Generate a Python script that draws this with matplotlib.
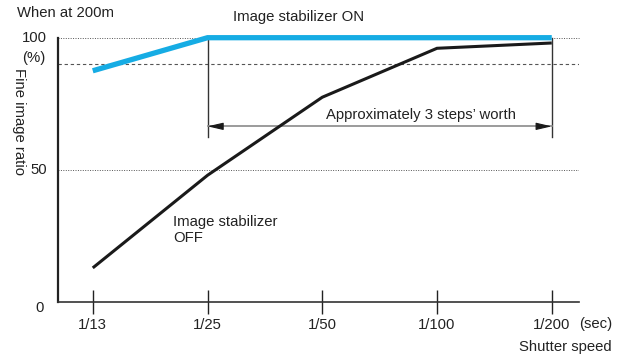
import matplotlib
matplotlib.use("Agg")
import matplotlib.pyplot as plt

plt.rcParams['font.family'] = ['Liberation Sans', 'DejaVu Sans']

# Shutter speeds (categorical x axis)
shutter_labels = ["1/13", "1/25", "1/50", "1/100", "1/200"]
# Fine image ratio (%)
stab_on = [87.5, 100, 100, 100, 100]
stab_off = [13, 48, 77.5, 96, 98]
y_ticks = [0, 50, 100]
ref_dashed = 90
steps_from, steps_to = 1, 4
steps_level = 66.5
steps_bracket_bottom = 62.5

W, H = 621, 356
fig = plt.figure(figsize=(W / 100, H / 100), dpi=100)
ax = fig.add_axes([58 / W, 53.7 / H, 521.3 / W, 264.6 / H])
ax.set_xlim(-0.303, 4.24)
ax.set_ylim(0, 100)

x = list(range(len(shutter_labels)))

# reference lines
grid_c = "#555555"
ax.axhline(100, color=grid_c, lw=0.7, ls=(0, (1, 1.5)), clip_on=False, zorder=1)
ax.axhline(50, color=grid_c, lw=0.7, ls=(0, (1, 1.5)), zorder=1)
ax.axhline(ref_dashed, color=grid_c, lw=0.8, ls=(0, (3, 2.5)), zorder=1)

# data lines
ax.plot(x, stab_off, color="#1a1a1a", lw=2.2, solid_capstyle="butt",
        solid_joinstyle="miter", zorder=3)
ax.plot(x, stab_on, color="#16ACE4", lw=3.8, solid_capstyle="butt",
        solid_joinstyle="miter", clip_on=False, zorder=4)

# bracket showing the gain in shutter steps
for xv in (steps_from, steps_to):
    ax.plot([xv, xv], [100, steps_bracket_bottom], color="#333333", lw=1.0,
            zorder=2, clip_on=False)
ax.plot([steps_from, steps_to], [steps_level, steps_level], color="#8a8a8a",
        lw=1.2, zorder=2)
for xv, off in ((steps_from, 10), (steps_to, -10)):
    ax.annotate("", xy=(xv, steps_level), xytext=(off, 0),
                textcoords="offset points",
                arrowprops=dict(arrowstyle="-|>,head_length=0.95,head_width=0.22",
                                mutation_scale=10, color="#1a1a1a", lw=0.8,
                                shrinkA=0, shrinkB=0), zorder=3)
ax.text(2.86, steps_level + 1.5, "Approximately 3 steps\u2019 worth",
        ha="center", va="bottom", fontsize=10.7, color="#222222")

ax.text(0.70, 27.2, "Image stabilizer\nOFF", ha="left", va="center",
        fontsize=10.7, color="#222222", linespacing=1.2)

# axes styling
for s in ("top", "right"):
    ax.spines[s].set_visible(False)
ax.spines["left"].set_linewidth(1.6)
ax.spines["bottom"].set_linewidth(1.2)
ax.spines["left"].set_color("#222222")
ax.spines["bottom"].set_color("#333333")

ax.set_xticks(x)
ax.set_xticklabels(shutter_labels, fontsize=10.7, color="#222222")
ax.tick_params(axis="x", direction="inout", length=17, width=1.0,
               color="#222222", pad=3)
ax.set_yticks([])

# y tick labels
for v in y_ticks:
    dy = -2.0 if v == 0 else 0
    ax.text(-0.40 if v else -0.43, v + dy, str(v), ha="right",
            va="center", fontsize=10.7, color="#222222", clip_on=False)

# outside labels (figure pixel coordinates)
def ftext(px, py, s, **kw):
    fig.text(px / W, 1 - py / H, s, fontsize=10.7, color="#222222", **kw)

ftext(17, 13, "When at 200m", ha="left", va="center")
ftext(299, 17, "Image stabilizer ON", ha="center", va="center")
ftext(34, 58, "(%)", ha="center", va="center")
ftext(18.5, 122, "Fine image ratio", ha="center", va="center", rotation=-90)
ftext(579, 324, "(sec)", ha="left", va="center")
ftext(612, 347, "Shutter speed", ha="right", va="center")

fig.savefig("out.png", dpi=100)
